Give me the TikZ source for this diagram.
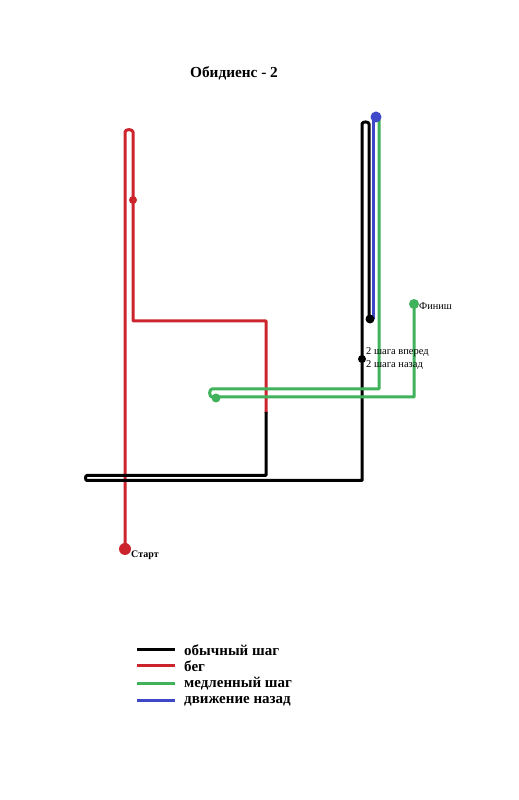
\documentclass[tikz,border=0pt]{standalone}
\usepackage{fontspec}
\setmainfont{Liberation Serif}
\usetikzlibrary{positioning}
\definecolor{runred}{RGB}{204,36,44}
\definecolor{slowgreen}{RGB}{64,178,92}
\definecolor{backblue}{RGB}{62,72,200}

\begin{document}
\begin{tikzpicture}[x=1pt, y=1pt,
  trail/.style={line width=3pt, line join=round},
  walkline/.style={trail, black},
  runline/.style={trail, runred},
  slowline/.style={trail, slowgreen},
  backline/.style={trail, backblue},
  lbl/.style={inner sep=1pt, font=\fontsize{10.3}{12}\selectfont},
  legendtxt/.style={anchor=west, inner sep=0pt, font=\fontsize{15}{17}\selectfont\bfseries}]
\useasboundingbox (0,0) rectangle (519,800);
% Titulo
\node[font=\fontsize{15.3}{17}\selectfont\bfseries] (title) at (234,727) {Обидиенс - 2};
% Beg
\draw[runline] (125,251) -- (125,668) to[out=90,in=90] (133,668) -- (133,479) -- (266,479) -- (266,387);
% Obychnyj shag
\draw[walkline] (266,388) -- (266,324.5) -- (87,324.5) to[out=180,in=180] (87,319.5) -- (362,319.5) -- (362,676) to[out=90,in=90] (369,676) -- (369,481);
% Dvizhenie nazad
\draw[backline] (373,481) -- (373,683);
% Medlennyj shag
\draw[slowline] (379,683) -- (379,411) -- (212,411) to[out=180,in=180] (212,403) -- (414,403) -- (414,496);
% Tochki
\fill[runred] (133,600) circle (4);
\fill[slowgreen] (216,402) circle (4.5);
\fill[black] (370,481) circle (4.5);
\fill[black] (362,441) circle (4);
\fill[backblue] (376,683) circle (5.5);
\fill[slowgreen] (414,496) circle (5);
\fill[runred] (125,251) circle (6);
% Podpisi
\node[lbl, anchor=west] (finish) at (418,494) {Финиш};
\node[lbl, anchor=west, align=left, font=\fontsize{10.5}{13}\selectfont] (steps) at (365,441) {2 шага вперед\\2 шага назад};
\node[lbl, anchor=west, font=\fontsize{10}{12}\selectfont\bfseries] (start) at (130,245) {Старт};
% Legenda
\foreach \y/\sty/\txt in {150/walkline/обычный шаг, 134/runline/бег, 116/slowline/медленный шаг, 99/backline/движение назад}
{
  \draw[\sty] (137,\y) -- (175,\y);
  \node[legendtxt] at (184,\y) {\txt};
}
\end{tikzpicture}
\end{document}
